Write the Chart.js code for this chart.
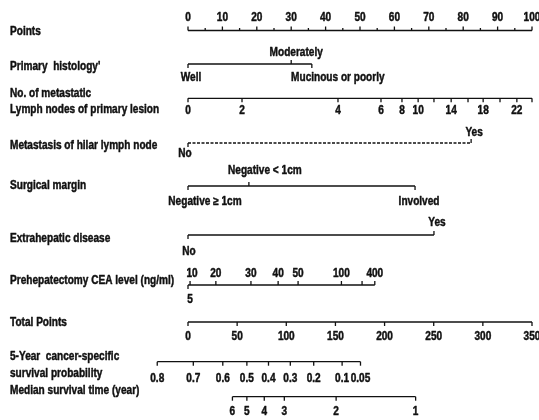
<!DOCTYPE html>
<html>
<head>
<meta charset="utf-8">
<script src="https://cdn.jsdelivr.net/npm/chart.js@4.4.1/dist/chart.umd.min.js"></script>
<style>
  html, body { margin: 0; padding: 0; background: #fff; }
  #wrap { width: 539px; height: 420px; }
</style>
</head>
<body>
<div id="wrap"><canvas id="nomo" width="539" height="420"></canvas></div>
<script>
// ---- Points scale (0-100) ----
const pointTicks = [0, 10, 20, 30, 40, 50, 60, 70, 80, 90, 100];
const pointMinorTicks = [5, 15, 25, 35, 45, 55, 65, 75, 85, 95];

// ---- Primary histology ----
const histologyLabels = ['Well', 'Moderately', 'Mucinous or poorly'];
const histologyPoints = [0, 30, 36];

// ---- No. of metastatic lymph nodes of primary lesion ----
const lymphValues = [0, 2, 4, 6, 8, 10, 12, 14, 16, 18, 20, 22, 24];
const lymphPoints = [0, 15.7, 43.6, 56.1, 62.2, 66.9, 71.5, 76.5, 81.4, 85.8, 90.7, 95.6, 100];
const lymphLabelled = [0, 2, 4, 6, 8, 10, 14, 18, 22];

// ---- Metastasis of hilar lymph node ----
const hilarLabels = ['No', 'Yes'];
const hilarPoints = [0, 82.3];

// ---- Surgical margin ----
const marginLabels = ['Negative \u2265 1cm', 'Negative < 1cm', 'Involved'];
const marginPoints = [0, 17.7, 66];

// ---- Extrahepatic disease ----
const extraLabels = ['No', 'Yes'];
const extraPoints = [0, 71.5];

// ---- Prehepatectomy CEA level (ng/ml) ----
const ceaValues = [5, 10, 20, 30, 40, 50, 100, 200, 400];
const ceaPoints = [0, 0.6, 8.1, 18.3, 26.2, 32, 44.6, 50.6, 54.3];
const ceaLabelledAbove = [10, 20, 30, 40, 50, 100, 400];
const ceaLabelledBelow = [5];

// ---- Total points (0-350) ----
const totalTicks = [0, 50, 100, 150, 200, 250, 300, 350];
const totalMax = 350;

// ---- 5-year cancer-specific survival probability (on the total points scale) ----
const survivalProbs = ['0.8', '0.7', '0.6', '0.5', '0.4', '0.3', '0.2', '0.1', '0.05'];
const survivalTotals = [-31.3, 5.4, 35.4, 59.9, 81.9, 104.1, 127.9, 156.8, 175.5];

// ---- Median survival time (year) (on the total points scale) ----
const medianYears = ['6', '5', '4', '3', '2', '1'];
const medianTotals = [45.2, 59.9, 77.6, 98, 150.7, 231.6];

// ---------------------------------------------------------------
const INK = '#111';
const FONT = 'bold 12px "Liberation Sans", Arial, sans-serif';
const NARROW = 0.84;   // horizontal squeeze for a condensed look
const toPts = t => t * 100 / totalMax;

// Row layout: vertical position of each axis line and text offsets
const rows = [];
function addRow(cfg) { rows.push(cfg); }

addRow({ y: 30.5, above: -13, below: 12,
  ticks: pointTicks.map(v => ({ pts: v, label: String(v), up: true }))
    .concat(pointMinorTicks.map(v => ({ pts: v, up: true, len: 2.5 }))) });

const histDx = [3, 5, 26];
const histUp = [false, true, false];
addRow({ y: 64, above: -11, below: 14,
  ticks: histologyLabels.map((l, i) => ({ pts: histologyPoints[i], label: l, up: histUp[i], dx: histDx[i] })) });

addRow({ y: 98.3, above: -12, below: 12,
  ticks: lymphValues.map((v, i) => ({ pts: lymphPoints[i], label: lymphLabelled.includes(v) ? String(v) : null, up: false })) });

addRow({ y: 143, above: -10, below: 11, dash: [3, 1.5],
  ticks: hilarLabels.map((l, i) => ({ pts: hilarPoints[i], label: l, up: i === 1, dx: i === 1 ? 3 : -3 })) });

const marginDx = [17, 16, 4];
const marginUp = [false, true, false];
addRow({ y: 186, above: -15, below: 16,
  ticks: marginLabels.map((l, i) => ({ pts: marginPoints[i], label: l, up: marginUp[i], dx: marginDx[i] })) });

addRow({ y: 235, above: -12, below: 17,
  ticks: extraLabels.map((l, i) => ({ pts: extraPoints[i], label: l, up: i === 1, dx: i === 1 ? 3 : 1 })) });

addRow({ y: 285, above: -11, below: 15,
  ticks: ceaValues.map((v, i) => {
    const up = !ceaLabelledBelow.includes(v);
    const lab = (ceaLabelledAbove.includes(v) || ceaLabelledBelow.includes(v)) ? String(v) : null;
    return { pts: ceaPoints[i], label: lab, up: up, dx: v === 10 ? 2 : (v === 5 ? 2 : 0) };
  }) });

addRow({ y: 322, above: -12, below: 15,
  ticks: totalTicks.map(v => ({ pts: toPts(v), label: String(v), up: false })) });

addRow({ y: 361.7, above: -12, below: 16.5,
  ticks: survivalProbs.map((l, i) => ({ pts: toPts(survivalTotals[i]), label: l, up: false })) });

addRow({ y: 396.7, above: -12, below: 15,
  ticks: medianYears.map((l, i) => ({ pts: toPts(medianTotals[i]), label: l, up: false })) });

// Row titles on the left
const titles = [
  ['Points', 32],
  ['Primary  histology\'', 67],
  ['No. of metastatic', 94],
  ['Lymph nodes of primary lesion', 110],
  ['Metastasis of hilar lymph node', 146],
  ['Surgical margin', 186],
  ['Extrahepatic disease', 239],
  ['Prehepatectomy CEA level (ng/ml)', 281],
  ['Total Points', 323],
  ['5-Year  cancer-specific', 357],
  ['survival probability', 374],
  ['Median survival time (year)', 391]
];

// Each axis line is a two-point scatter line
const datasets = rows.map(r => {
  const xs = r.ticks.map(t => t.pts);
  return {
    data: [{ x: Math.min(...xs), y: r.y }, { x: Math.max(...xs), y: r.y }],
    showLine: true, borderColor: INK, borderWidth: 1.3, pointRadius: 0,
    borderDash: r.dash || [], clip: false, tension: 0
  };
});

// Condensed, heavy text: squeeze horizontally and thicken with a fine outline
function squeezedText(ctx, text, x, y, align) {
  ctx.save();
  ctx.translate(x, y);
  ctx.scale(NARROW, 1);
  ctx.textAlign = align;
  ctx.lineWidth = 0.45;
  ctx.lineJoin = 'round';
  ctx.fillText(text, 0, 0);
  ctx.strokeText(text, 0, 0);
  ctx.restore();
}

const nomogramPlugin = {
  id: 'nomogram',
  afterDatasetsDraw(chart) {
    const ctx = chart.ctx, xs = chart.scales.x, ys = chart.scales.y;
    ctx.save();
    ctx.fillStyle = INK; ctx.strokeStyle = INK; ctx.lineWidth = 1.3;
    ctx.font = FONT; ctx.textBaseline = 'middle';
    titles.forEach(([t, yy]) => squeezedText(ctx, t, 10, ys.getPixelForValue(yy), 'left'));
    rows.forEach(r => {
      const py = ys.getPixelForValue(r.y);
      r.ticks.forEach(t => {
        const px = xs.getPixelForValue(t.pts);
        const dir = t.up ? -1 : 1;
        ctx.lineWidth = 1.3;
        ctx.beginPath();
        ctx.moveTo(px, py);
        ctx.lineTo(px, py + dir * (t.len || 4));
        ctx.stroke();
        if (t.label) {
          squeezedText(ctx, t.label, px + (t.dx || 0), py + (t.up ? r.above : r.below), 'center');
        }
      });
    });
    ctx.restore();
  }
};

new Chart(document.getElementById('nomo'), {
  type: 'scatter',
  data: { datasets },
  options: {
    responsive: false,
    animation: false,
    layout: { padding: { left: 188, right: 7, top: 0, bottom: 0 } },
    plugins: { legend: { display: false }, tooltip: { enabled: false } },
    events: [],
    scales: {
      x: { type: 'linear', min: 0, max: 100, display: false },
      y: { type: 'linear', min: 0, max: 420, reverse: true, display: false }
    }
  },
  plugins: [nomogramPlugin]
});
</script>
</body>
</html>
